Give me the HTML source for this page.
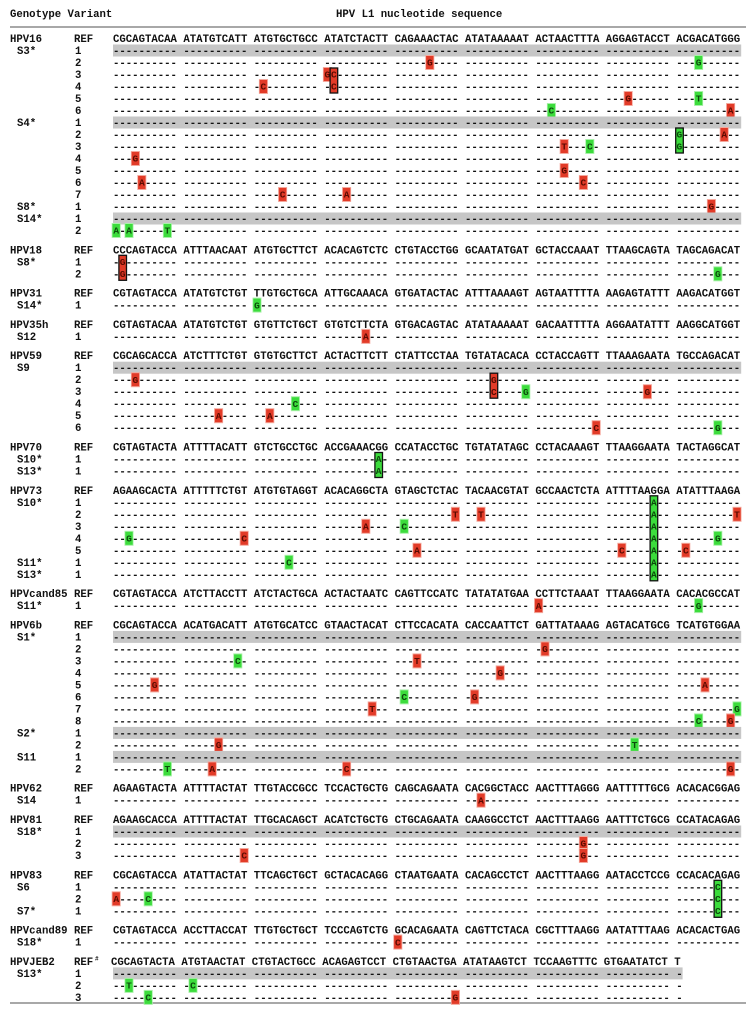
<!DOCTYPE html>
<html><head><meta charset="utf-8">
<style>
html,body{margin:0;padding:0;background:#fff;}
svg{display:block;}
text{font-family:"Liberation Mono",monospace;font-weight:bold;fill:#111;}
</style></head>
<body>
<svg id="fig" width="752" height="1014" viewBox="0 0 752 1014" xmlns="http://www.w3.org/2000/svg">
<text x="10" y="17" font-size="10.67">Genotype Variant</text>
<text x="336" y="17" font-size="10.67">HPV L1 nucleotide sequence</text>
<rect x="10" y="26" width="736" height="2" fill="#a8a8a8"></rect>
<rect x="10" y="1002" width="736" height="2" fill="#a8a8a8"></rect>
<g id="rows"></g>
</svg>
<script>
const groups = [
 ["HPV16","CGCAGTACAA ATATGTCATT ATGTGCTGCC ATATCTACTT CAGAAACTAC ATATAAAAAT ACTAACTTTA AGGAGTACCT ACGACATGGG",[
  ["S3*","1",1,""],["","2",0,"4:5:G:r,8:3:G:g"],["","3",0,"3:0:G:r"],["","4",0,"2:1:C:r"],["","5",0,"7:3:G:r,8:3:T:g"],["","6",0,"6:2:C:g,8:8:A:r"],
  ["S4*","1",1,""],["","2",0,"8:7:A:r"],["","3",0,"6:4:T:r,6:8:C:g"],["","4",0,"0:3:G:r"],["","5",0,"6:4:G:r"],["","6",0,"0:4:A:r,6:7:C:r"],["","7",0,"2:4:C:r,3:3:A:r"],
  ["S8*","1",0,"8:5:G:r"],["S14*","1",1,""],["","2",0,"0:0:A:g,0:2:A:g,0:8:T:g"]]],
 ["HPV18","CCCAGTACCA ATTTAACAAT ATGTGCTTCT ACACAGTCTC CTGTACCTGG GCAATATGAT GCTACCAAAT TTAAGCAGTA TAGCAGACAT",[
  ["S8*","1",0,""],["","2",0,"8:6:G:g"]]],
 ["HPV31","CGTAGTACCA ATATGTCTGT TTGTGCTGCA ATTGCAAACA GTGATACTAC ATTTAAAAGT AGTAATTTTA AAGAGTATTT AAGACATGGT",[
  ["S14*","1",0,"2:0:G:g"]]],
 ["HPV35h","CGTAGTACAA ATATGTCTGT GTGTTCTGCT GTGTCTTCTA GTGACAGTAC ATATAAAAAT GACAATTTTA AGGAATATTT AAGGCATGGT",[
  ["S12","1",0,"3:6:A:r"]]],
 ["HPV59","CGCAGCACCA ATCTTTCTGT GTGTGCTTCT ACTACTTCTT CTATTCCTAA TGTATACACA CCTACCAGTT TTAAAGAATA TGCCAGACAT",[
  ["S9","1",1,""],["","2",0,"0:3:G:r"],["","3",0,"5:9:G:g,7:6:G:r"],["","4",0,"2:6:C:g"],["","5",0,"1:5:A:r,2:2:A:r"],["","6",0,"6:9:C:r,8:6:G:g"]]],
 ["HPV70","CGTAGTACTA ATTTTACATT GTCTGCCTGC ACCGAAACGG CCATACCTGC TGTATATAGC CCTACAAAGT TTAAGGAATA TACTAGGCAT",[
  ["S10*","1",0,""],["S13*","1",0,""]]],
 ["HPV73","AGAAGCACTA ATTTTTCTGT ATGTGTAGGT ACACAGGCTA GTAGCTCTAC TACAACGTAT GCCAACTCTA ATTTTAAGGA ATATTTAAGA",[
  ["S10*","1",0,""],["","2",0,"4:9:T:r,5:2:T:r,8:9:T:r"],["","3",0,"3:6:A:r,4:1:C:g"],["","4",0,"0:2:G:g,1:9:C:r,8:6:G:g"],["","5",0,"4:3:A:r,7:2:C:r,8:1:C:r"],
  ["S11*","1",0,"2:5:C:g"],["S13*","1",0,""]]],
 ["HPVcand85","CGTAGTACCA ATCTTACCTT ATCTACTGCA ACTACTAATC CAGTTCCATC TATATATGAA CCTTCTAAAT TTAAGGAATA CACACGCCAT",[
  ["S11*","1",0,"6:0:A:r,8:3:G:g"]]],
 ["HPV6b","CGCAGTACCA ACATGACATT ATGTGCATCC GTAACTACAT CTTCCACATA CACCAATTCT GATTATAAAG AGTACATGCG TCATGTGGAA",[
  ["S1*","1",1,""],["","2",0,"6:1:G:r"],["","3",0,"1:8:C:g,4:3:T:r"],["","4",0,"5:5:G:r"],["","5",0,"0:6:G:r,8:4:A:r"],["","6",0,"4:1:C:g,5:1:G:r"],["","7",0,"3:7:T:r,8:9:G:g"],["","8",0,"8:3:C:g,8:8:G:r"],
  ["S2*","1",1,""],["","2",0,"1:5:G:r,7:4:T:g"],["S11","1",1,""],["","2",0,"0:8:T:g,1:4:A:r,3:3:C:r,8:8:G:r"]]],
 ["HPV62","AGAAGTACTA ATTTTACTAT TTGTACCGCC TCCACTGCTG CAGCAGAATA CACGGCTACC AACTTTAGGG AATTTTTGCG ACACACGGAG",[
  ["S14","1",0,"5:2:A:r"]]],
 ["HPV81","AGAAGCACCA ATTTTACTAT TTGCACAGCT ACATCTGCTG CTGCAGAATA CAAGGCCTCT AACTTTAAGG AATTTCTGCG CCATACAGAG",[
  ["S18*","1",1,""],["","2",0,"6:7:G:r"],["","3",0,"1:9:C:r,6:7:G:r"]]],
 ["HPV83","CGCAGTACCA ATATTACTAT TTCAGCTGCT GCTACACAGG CTAATGAATA CACAGCCTCT AACTTTAAGG AATACCTCCG CCACACAGAG",[
  ["S6","1",0,""],["","2",0,"0:0:A:r,0:5:C:g"],["S7*","1",0,""]]],
 ["HPVcand89","CGTAGTACCA ACCTTACCAT TTGTGCTGCT TCCCAGTCTG GCACAGAATA CAGTTCTACA CGCTTTAAGG AATATTTAAG ACACACTGAG",[
  ["S18*","1",0,"4:0:C:r"]]],
 ["HPVJEB2","CGCAGTACTA ATGTAACTAT CTGTACTGCC ACAGAGTCCT CTGTAACTGA ATATAAGTCT TCCAAGTTTC GTGAATATCT T",[
  ["S13*","1",1,""],["","2",0,"0:2:T:g,1:1:C:g"],["","3",0,"0:5:C:g,4:9:G:r"]]]
];
const stacks = [
 [0,3,2,3,1,"r","CC"],[0,8,2,8,0,"g","GG"],
 [1,1,2,0,1,"r","GG"],
 [4,2,2,5,4,"r","GC"],
 [5,1,2,3,8,"g","AA"],
 [6,1,7,7,7,"g","AAAAAAA"],
 [11,1,3,8,6,"g","CCC"]
];

const NS="http://www.w3.org/2000/svg";
const g=document.getElementById("rows");
const X0=113, CH=6.4, FS=10.67, ROWH=12, GAP=7.3, Y0=38.5;
const FILL={r:"#e23b28",g:"#3cdc3c"}, HALO={r:"#f4a89c",g:"#a8f0a8"}, INK={r:"#5a0a00",g:"#0b4a0b"};
function cx(b,p){return X0+(b*11+p)*CH;}
function mk(tag,attrs,parent){const e=document.createElementNS(NS,tag);for(const k in attrs)e.setAttribute(k,attrs[k]);(parent||g).appendChild(e);return e;}
function txt(x,y,s,size,parent){const t=mk("text",{x:x,y:y,"font-size":size},parent);t.setAttribute("xml:space","preserve");t.textContent=s;return t;}

let ri=0;
const rowY=[];
groups.forEach((grp,gi)=>{
  const ys=[];
  const refBlocks=grp[1].split(" ");
  const yRef=Y0+ri*ROWH+gi*GAP; ys.push(yRef); ri++;
  const gl=txt(10,yRef+3.5,grp[0],FS);
  
  
  const isJ=grp[0]==="HPVJEB2";
  const rl=txt(74,yRef+3.5,"REF",FS);
  
  
  if(isJ){const s=txt(95,yRef-1,"#",6);
    
    }
  const dx=isJ?-2:0;
  refBlocks.forEach((bl,b)=>{const t=txt(cx(b,0)+dx,yRef+3.5,bl,FS);
    
    });
  grp[2].forEach(r=>{
    const y=Y0+ri*ROWH+gi*GAP; ys.push(y); ri++;
    if(r[2]){const band=mk("rect",{x:X0,y:y-6,width:isJ?(cx(8,1)-X0):(cx(8,10)-X0+1),height:12,fill:"#c6c6c6"});
      
      }
    if(r[0]){const v=txt(17,y+3.5,r[0],FS);
      
      }
    const n=txt(75,y+3.5,r[1],FS);
    
    
    refBlocks.forEach((bl,b)=>{const t=txt(cx(b,0),y+3.5,"-".repeat(bl.length),FS);
      
      });
    if(r[3]) r[3].split(",").forEach(m=>{
      const [b,p,l,c]=m.split(":");
      const x=cx(+b,+p);
      const halo=mk("rect",{x:x-1.3,y:y-7.5,width:9,height:15,fill:HALO[c]});
      
      
      const box=mk("rect",{x:x-0.5,y:y-6.5,width:7.4,height:13,fill:FILL[c]});
      
      
      const t=txt(x+3.2,y+3.2,l,9.5);t.setAttribute("text-anchor","middle");t.style.fill=INK[c];
      
      
    });
  });
  rowY.push(ys);
});
stacks.forEach(s=>{
  const [gi,r0,n,b,p,c,letters]=s;
  const ys=rowY[gi];
  const x=cx(b,p);
  const top=ys[r0]-6.5, h=ys[r0+n-1]+6.5-top;
  const box=mk("rect",{x:x-0.5,y:top,width:7.6,height:h,fill:FILL[c],stroke:"#111","stroke-width":1.3});
  
  
  for(let k=0;k<n;k++){
    const t=txt(x+3.2,ys[r0+k]+3.2,letters[k],9.5);t.setAttribute("text-anchor","middle");t.style.fill=INK[c];
    
    
  }
});
</script>
</body></html>
